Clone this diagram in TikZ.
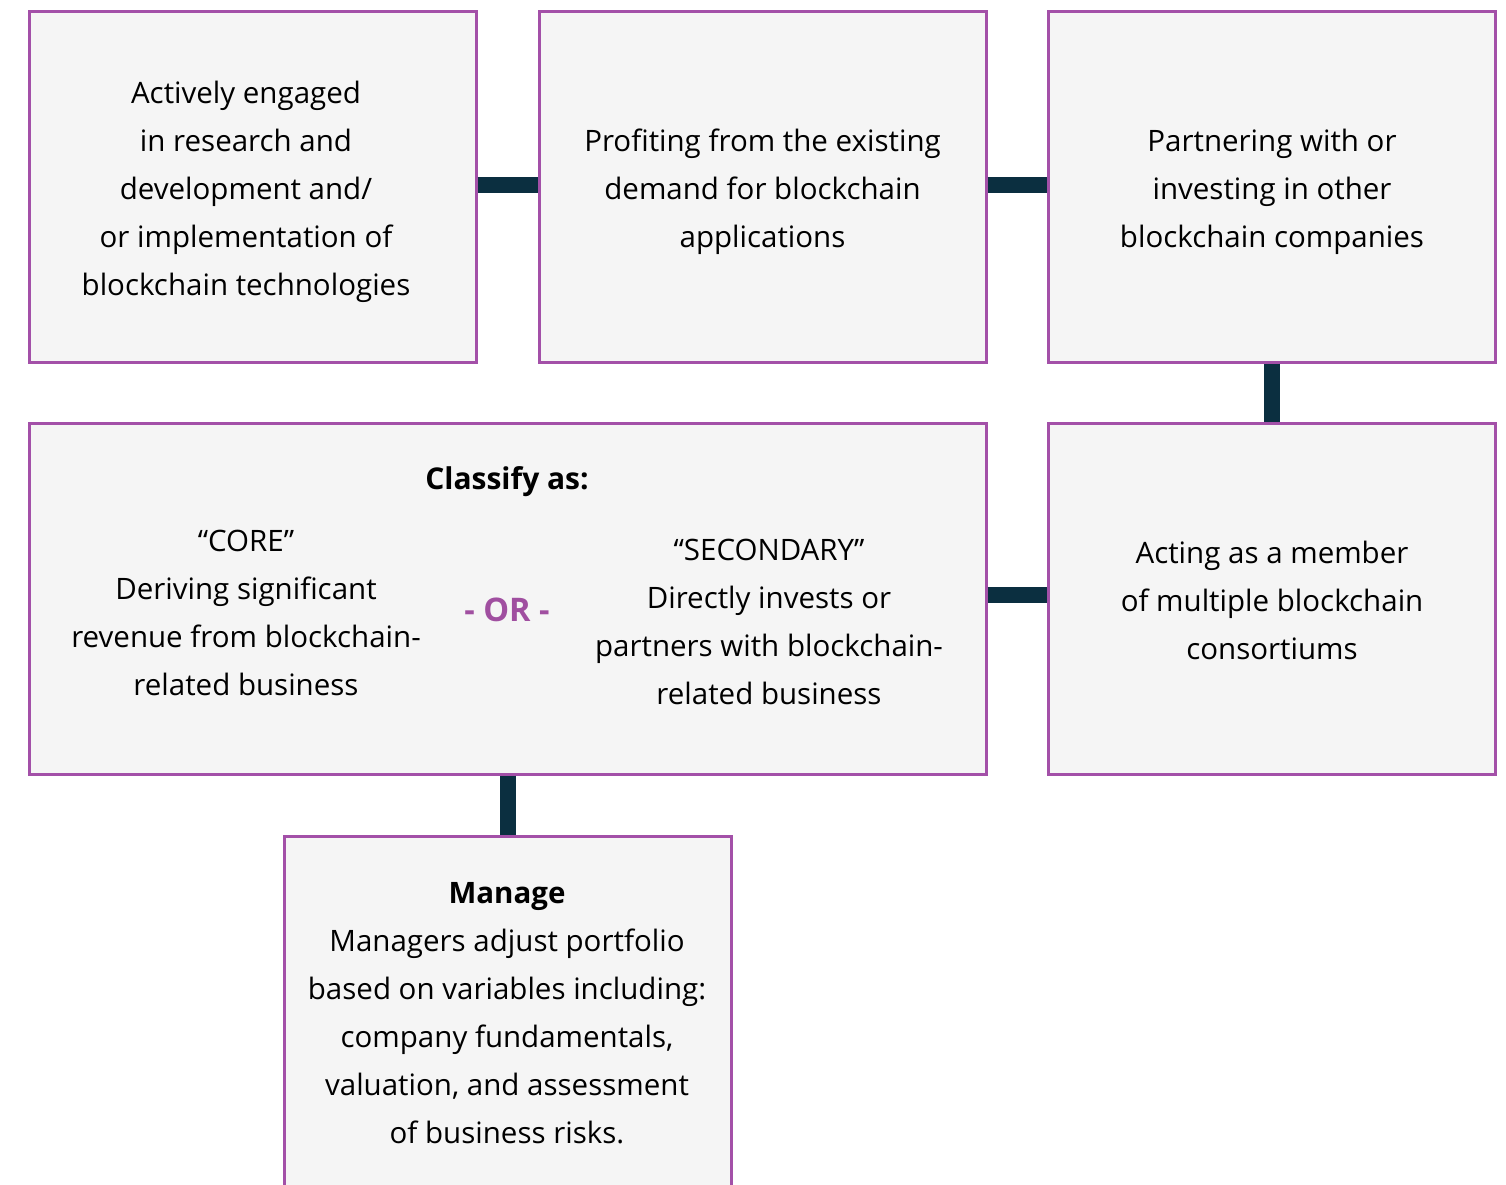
\documentclass[tikz,border=0pt]{standalone}
\usepackage{fontspec}
\setmainfont{Open Sans}
\definecolor{boxfill}{HTML}{F5F5F5}
\definecolor{boxline}{HTML}{A350A8}
\definecolor{linkcol}{HTML}{0B2F40}
\definecolor{orcol}{HTML}{A04FA0}
\begin{document}
\begin{tikzpicture}[x=1pt,y=-1pt,
  box/.style={draw=boxline,fill=boxfill,line width=3pt,rectangle,inner sep=0pt,minimum width=447pt,minimum height=351pt},
  txt/.style={align=center,anchor=base,inner sep=0pt,font=\fontsize{29.5}{48}\selectfont,text=black},
  btxt/.style={anchor=base,inner sep=0pt,font=\fontsize{30}{48}\selectfont\bfseries,text=black},
  link/.style={draw=linkcol,line width=16pt}]
\useasboundingbox (0,0) rectangle (1506,1184);
\fill[white] (0,0) rectangle (1506,1184);
\begin{scope}
\clip (0,0) rectangle (1506,1184);
\node[box] (b1) at (252.5,186.5) {};
\node[box] (b2) at (762.5,186.5) {};
\node[box] (b3) at (1272,186.5) {};
\node[box,minimum width=957pt] (b4) at (507.5,598.5) {};
\node[box] (b5) at (1272,598.5) {};
\node[box] (b6) at (507.5,1011.5) {};
\end{scope}
\draw[link] ([yshift=1.5pt]b1.east) -- ([yshift=1.5pt]b2.west);
\draw[link] ([yshift=1.5pt]b2.east) -- ([yshift=1.5pt]b3.west);
\draw[link] (b3.south) -- (b5.north);
\draw[link] ([yshift=3.5pt]b4.east) -- ([yshift=3.5pt]b5.west);
\draw[link] (b4.south) -- (b6.north);
\node[txt] (t1) at (246,295) {Actively engaged\\in research and\\development and/\\or implementation of\\blockchain technologies};
\node[txt] (t2) at (762.5,247) {Profiting from the existing\\demand for blockchain\\applications};
\node[txt] (t3) at (1272,247) {Partnering with or\\investing in other\\blockchain companies};
\node[txt] (t5) at (1272,659) {Acting as a member\\of multiple blockchain\\consortiums};
\node[btxt] (t4h) at (507,489) {Classify as:};
\node[txt] (t4a) at (246,695) {“CORE”\\Deriving significant\\revenue from blockchain-\\related business};
\node[btxt,text=orcol,font=\fontsize{32.5}{48}\selectfont\bfseries] (t4o) at (507,621) {- OR -};
\node[txt] (t4b) at (769,704) {“SECONDARY”\\Directly invests or\\partners with blockchain-\\related business};
\node[txt] (t6) at (507,1143) {\textbf{Manage}\\Managers adjust portfolio\\based on variables including:\\company fundamentals,\\valuation, and assessment\\of business risks.};
\end{tikzpicture}
\end{document}
